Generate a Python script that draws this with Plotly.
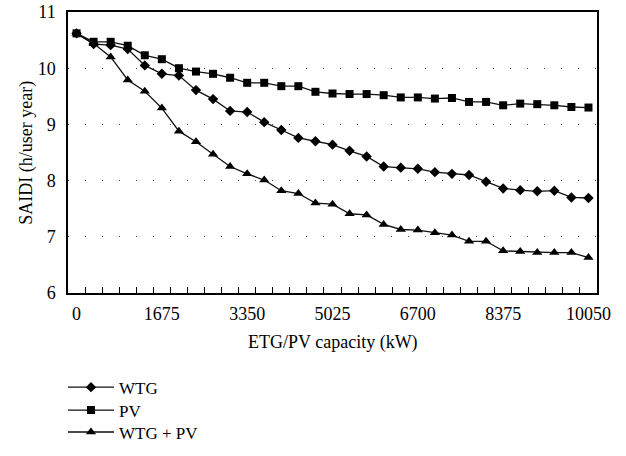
import plotly.graph_objects as go

capacity_kw = [0, 335, 670, 1005, 1340, 1675, 2010, 2345, 2680, 3015, 3350,
               3685, 4020, 4355, 4690, 5025, 5360, 5695, 6030, 6365, 6700,
               7035, 7370, 7705, 8040, 8375, 8710, 9045, 9380, 9715, 10050]

saidi_wtg = [10.62, 10.43, 10.41, 10.34, 10.05, 9.90, 9.87, 9.61, 9.45, 9.24, 9.22,
             9.04, 8.90, 8.76, 8.70, 8.64, 8.53, 8.43, 8.25, 8.23, 8.21,
             8.15, 8.12, 8.10, 7.98, 7.86, 7.83, 7.81, 7.82, 7.70, 7.69]

saidi_pv = [10.62, 10.47, 10.47, 10.40, 10.23, 10.16, 10.00, 9.94, 9.90, 9.83, 9.74,
            9.74, 9.68, 9.68, 9.58, 9.55, 9.54, 9.54, 9.52, 9.48, 9.48,
            9.46, 9.47, 9.40, 9.40, 9.34, 9.37, 9.36, 9.34, 9.31, 9.30]

saidi_wtg_pv = [10.62, 10.44, 10.20, 9.79, 9.59, 9.29, 8.88, 8.69, 8.47, 8.25, 8.12,
                8.01, 7.82, 7.77, 7.60, 7.58, 7.41, 7.39, 7.22, 7.13, 7.12,
                7.07, 7.03, 6.92, 6.92, 6.75, 6.74, 6.72, 6.72, 6.72, 6.63]

x_tick_vals = [0, 1675, 3350, 5025, 6700, 8375, 10050]
x_tick_text = ["0", "1675", "3350", "5025", "6700", "8375", "10050"]
y_tick_vals = [6, 7, 8, 9, 10, 11]
x_title = "ETG/PV capacity (kW)"
y_title = "SAIDI (h/user year)"

FONT = "Liberation Serif, Times New Roman, Times, serif"

fig = go.Figure()
series = [
    ("WTG", saidi_wtg, "diamond", 8, "legend", 0.150),
    ("PV", saidi_pv, "square", 8, "legend2", 0.0998),
    ("WTG + PV", saidi_wtg_pv, "triangle-up", 9, "legend3", 0.0516),
]
legends = {}
for name, vals, sym, size, leg, ly in series:
    fig.add_trace(go.Scatter(
        x=capacity_kw, y=vals, name=name, mode="lines+markers",
        line=dict(color="#111111", width=1.3),
        marker=dict(symbol=sym, size=size, color="#000000"),
        legend=leg,
    ))
    legends[leg] = dict(
        xref="paper", yref="container",
        x=-0.0095, xanchor="left", y=ly, yanchor="middle",
        font=dict(family=FONT, size=17, color="#000000"),
        itemwidth=46, bgcolor="rgba(0,0,0,0)", borderwidth=0,
    )

fig.update_layout(
    width=626, height=456,
    margin=dict(l=68, r=29, t=12, b=163),
    paper_bgcolor="white", plot_bgcolor="white",
    font=dict(family=FONT, size=18, color="#000000"),
    showlegend=True,
    **legends,
    xaxis=dict(
        range=[-167.5, 10217.5], automargin=False,
        tickmode="array", tickvals=x_tick_vals, ticktext=x_tick_text,
        ticks="inside", ticklen=0, ticklabelstandoff=4,
        ticklabeloverflow="allow",
        minor=dict(tickmode="linear", tick0=167.5, dtick=335, ticks="inside",
                   ticklen=6, tickcolor="#000000", tickwidth=1, showgrid=False),
        showgrid=False, zeroline=False,
        showline=True, linecolor="#000000", linewidth=1.5, mirror=True,
        tickfont=dict(family=FONT, size=18),
    ),
    yaxis=dict(
        range=[6, 11], automargin=False,
        tickmode="array", tickvals=y_tick_vals,
        ticks="", ticklabelstandoff=7, ticklabeloverflow="allow",
        showgrid=True, gridcolor="#555555", gridwidth=1, griddash="1px,16px",
        zeroline=False,
        showline=True, linecolor="#000000", linewidth=1.5, mirror=True,
        tickfont=dict(family=FONT, size=18),
    ),
    annotations=[
        dict(text=x_title, xref="paper", yref="paper", x=0.5, y=-0.1744,
             xanchor="center", yanchor="middle", showarrow=False,
             font=dict(family=FONT, size=18, color="#000000")),
        dict(text=y_title, xref="paper", yref="paper", x=-0.079, y=0.5,
             xanchor="center", yanchor="middle", textangle=-90, showarrow=False,
             font=dict(family=FONT, size=18, color="#000000")),
    ],
)

fig.write_html("out.html", config={"displayModeBar": False},
               post_script="document.body.style.margin='0px';")
